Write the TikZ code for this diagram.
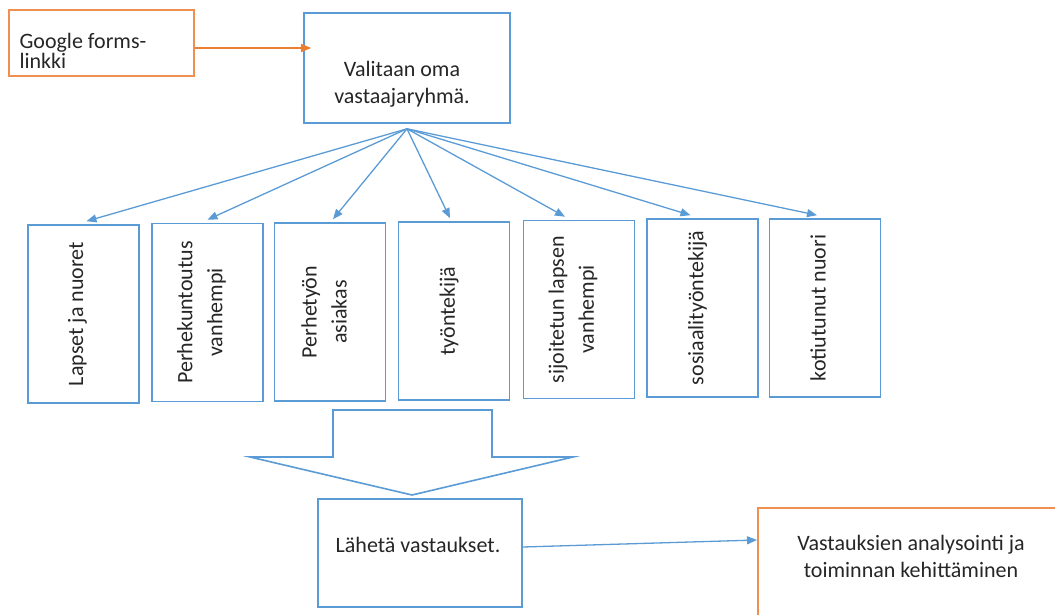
\documentclass[tikz,border=0pt]{standalone}
\usepackage{fontspec}
\setmainfont{Carlito}
\usetikzlibrary{arrows.meta}
\definecolor{boxblue}{RGB}{91,155,213}
\definecolor{boxorange}{RGB}{237,125,49}
\begin{document}
\begin{tikzpicture}[x=1pt, y=-1pt,
    every node/.style={text=black!85, font=\fontsize{22}{27}\selectfont},
    bluebox/.style={draw=boxblue, line width=1.6pt, inner sep=0pt},
    orangebox/.style={draw=boxorange!85!white, line width=1.6pt, inner sep=0pt},
    vbox/.style={bluebox, minimum width=111pt, minimum height=178pt},
    vtext/.style={rotate=90, align=center, font=\fontsize{22}{30}\selectfont},
    fanarrow/.style={draw=boxblue, line width=1.3pt, -{Triangle[length=10pt,width=8pt]}}]
    \useasboundingbox (0,0) rectangle (1055,614);
    \clip (0,0) rectangle (1055,614);
    \node[orangebox, minimum width=185pt, minimum height=66pt] (google) at (101.5,43) {};
    \node[anchor=west, align=left, font=\fontsize{22}{20}\selectfont] (googletext) at (16,51) {Google forms-\\linkki};
    \node[bluebox, minimum width=206pt, minimum height=110pt] (valitaan) at (407,68) {};
    \node[align=center] (valitaantext) at (402,84) {Valitaan oma\\vastaajaryhmä.};
    \draw[draw=boxorange, line width=1.3pt, -{Triangle[length=10pt,width=8pt]}] ([yshift=-5pt]google.east) -- ([xshift=8pt,yshift=20pt]valitaan.west);
    \coordinate (fan) at ([yshift=-5pt]valitaan.south);
    \node[vbox] (b1) at (83.5,314) {};
    \node[vtext] (t1) at ([xshift=-6pt]b1.center) {Lapset ja nuoret};
    \node[vbox] (b2) at (207.5,312.5) {};
    \node[vtext] (t2) at ([xshift=-6pt]b2.center) {Perhekuntoutus\\vanhempi};
    \node[vbox] (b3) at (330,312) {};
    \node[vtext] (t3) at ([xshift=-6pt]b3.center) {Perhetyön\\asiakas};
    \node[vbox] (b4) at (454,311) {};
    \node[vtext] (t4) at ([xshift=-5pt]b4.center) {työntekijä};
    \node[vbox] (b5) at (579,309.5) {};
    \node[vtext] (t5) at ([xshift=-6pt]b5.center) {sijoitetun lapsen\\vanhempi};
    \node[vbox] (b6) at (702.5,308) {};
    \node[vtext] (t6) at ([xshift=-5pt]b6.center) {sosiaalityöntekijä};
    \node[vbox] (b7) at (825,308) {};
    \node[vtext] (t7) at ([xshift=-7pt]b7.center) {kotiutunut nuori};
    \draw[fanarrow] (fan) -- ([xshift=3pt,yshift=3pt]b1.north);
    \draw[fanarrow] (fan) -- ([xshift=0pt,yshift=3pt]b2.north);
    \draw[fanarrow] (fan) -- ([xshift=3pt,yshift=3pt]b3.north);
    \draw[fanarrow] (fan) -- ([xshift=-4pt,yshift=3pt]b4.north);
    \draw[fanarrow] (fan) -- ([xshift=-14pt,yshift=3pt]b5.north);
    \draw[fanarrow] (fan) -- ([xshift=-12pt,yshift=3pt]b6.north);
    \draw[fanarrow] (fan) -- ([xshift=-8pt,yshift=3pt]b7.north);
    \draw[bluebox, line join=miter] (333,410) -- (492,410) -- (492,457) -- (573,457) -- (412,495) -- (250,457) -- (333,457) -- cycle;
    \node[bluebox, minimum width=204pt, minimum height=108pt] (laheta) at (420,553) {};
    \node (lahetatext) at (418,545) {Lähetä vastaukset.};
    \node[orangebox, minimum width=308pt, minimum height=140pt, anchor=north west] (analyysi) at (757,507) {};
    \node[align=center] (analyysitext) at (911,556) {Vastauksien analysointi ja\\toiminnan kehittäminen};
    \draw[fanarrow] ([yshift=6pt]laheta.east) -- ([yshift=-33pt]analyysi.north west);
\end{tikzpicture}
\end{document}
